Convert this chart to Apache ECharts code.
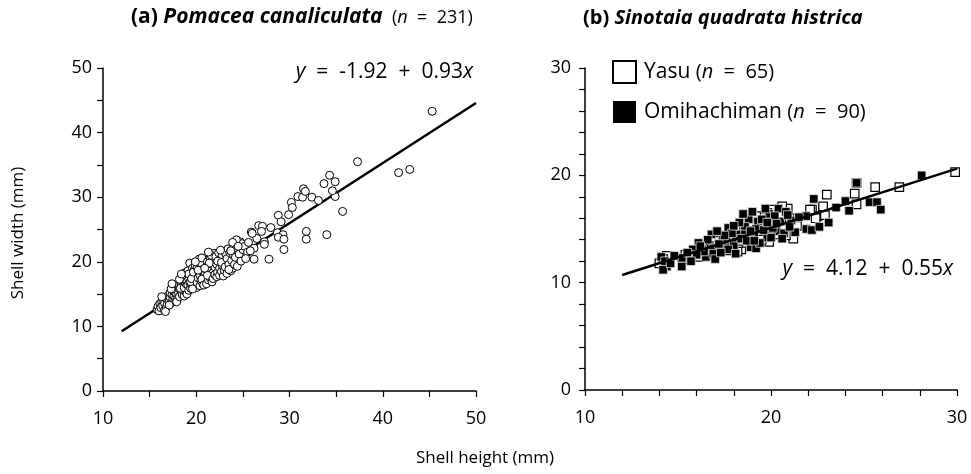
<!DOCTYPE html>
<html>
<head>
<meta charset="utf-8">
<script src="https://cdn.jsdelivr.net/npm/echarts@6/dist/echarts.min.js"></script>
<style>
html,body{margin:0;padding:0;background:#fff;}
#c{width:971px;height:474px;}
</style>
</head>
<body>
<div id="c"></div>
<script>
// ---- Panel (a): Pomacea canaliculata, [shell height, shell width] ----
var pomacea = [
[15.8,12.6],[15.9,13.1],[16.0,12.4],[16.1,13.5],[16.2,12.9],[16.3,13.8],[16.4,13.2],[16.5,14.0],[16.6,12.5],[16.6,13.6],
[16.7,14.4],[16.8,13.0],[16.9,14.1],[16.9,13.4],[16.7,12.3],[17.0,14.8],
[17.1,13.9],[17.2,14.5],[17.2,15.2],[17.3,13.6],[17.4,14.9],[17.5,14.2],[17.5,15.6],[17.6,14.7],[17.7,13.9],[17.7,15.3],
[17.8,14.4],[17.8,16.0],[17.9,15.0],[18.0,14.3],[18.0,15.7],[17.6,16.2],[17.9,13.8],[17.3,15.8],
[18.1,15.2],[18.1,16.4],[18.2,14.6],[18.2,15.8],[18.3,17.0],[18.4,15.4],[18.4,16.6],[18.5,14.9],[18.5,16.1],[18.6,17.5],
[18.6,15.6],[18.7,16.8],[18.7,14.7],[18.8,16.3],[18.8,18.3],[18.9,15.3],[18.9,17.2],[19.0,16.0],[19.0,17.8],[19.0,15.0],
[18.3,15.9],[18.5,17.8],[18.7,16.0],[18.9,16.6],[19.0,16.9],
[19.1,16.4],[19.1,18.6],[19.2,15.6],[19.2,17.3],[19.3,19.8],[19.3,16.8],[19.4,17.9],[19.4,15.9],[19.5,16.5],[19.5,18.3],
[19.6,17.0],[19.6,19.0],[19.7,16.1],[19.7,17.6],[19.8,18.8],[19.8,16.6],[19.9,17.3],[19.9,19.4],[20.0,16.0],[20.0,18.0],
[19.2,18.1],[19.4,16.9],[19.6,15.8],[19.8,17.9],[20.0,17.2],[19.5,17.4],[19.7,18.4],
[20.1,16.8],[20.1,19.1],[20.2,17.5],[20.3,20.4],[20.3,18.3],[20.4,16.3],[20.4,17.9],[20.5,19.4],[20.5,17.1],[20.6,18.6],
[20.7,16.6],[20.7,19.9],[20.8,17.7],[20.8,18.9],[20.9,16.9],[20.9,20.2],[21.0,18.2],[21.0,17.4],[20.2,18.7],[20.6,17.3],
[20.8,16.4],[21.0,19.5],[20.4,19.9],[20.6,20.6],
[21.1,16.6],[21.1,18.8],[21.2,20.0],[21.3,17.2],[21.3,19.3],[21.4,18.0],[21.5,20.6],[21.5,17.5],[21.6,18.9],[21.7,16.9],
[21.7,19.6],[21.8,18.3],[21.9,21.3],[21.9,17.8],[22.0,19.2],[22.0,20.3],[21.2,17.9],[21.4,19.8],[21.6,21.0],[21.8,17.4],[22.0,18.0],
[22.1,20.8],[22.2,17.7],[22.2,19.6],[22.3,18.4],[22.4,21.4],[22.5,19.0],[22.5,17.9],[22.6,20.4],[22.7,18.5],[22.8,21.0],
[22.8,19.4],[22.9,17.8],[23.0,20.0],[23.0,18.7],[22.3,20.1],[22.7,19.9],[23.0,21.6],
[23.1,19.2],[23.2,21.1],[23.3,18.2],[23.3,20.5],[23.4,22.0],[23.5,19.6],[23.6,21.4],[23.7,18.6],[23.7,21.7],[23.8,20.2],
[23.9,19.0],[24.0,21.0],[24.0,22.5],[23.5,18.8],
[24.1,19.6],[24.2,20.7],[24.3,22.1],[24.4,19.3],[24.5,22.4],[24.6,21.2],[24.7,23.1],[24.8,20.1],[25.0,21.9],[24.9,22.8],
[25.2,22.4],[25.5,21.5],[26.5,23.6],[24.3,23.4],[22.6,21.8],[21.3,21.5],[20.9,19.0],[19.9,20.0],[18.2,17.3],[17.4,16.6],
[16.3,14.6],[17.1,13.3],[18.4,18.1],[23.9,23.0],[25.9,24.6],
[25.6,23.0],[26.2,22.1],[26.2,20.4],[25.8,21.7],[25.3,20.5],[24.5,22.4],[23.7,21.7],
[26.0,24.4],[26.7,25.6],[27.1,25.5],[27.0,24.7],[27.3,23.1],[27.3,22.7],[28.0,25.3],[27.8,20.4],
[28.7,24.5],[29.3,24.2],[28.8,23.8],[29.4,23.5],[29.4,21.9],[28.8,27.2],[29.1,26.2],[29.9,27.3],
[30.2,29.2],[30.3,28.4],[30.9,30.1],[31.4,30.0],[31.5,31.3],[31.7,30.9],[32.4,30.0],[33.1,29.5],
[31.8,24.7],[31.8,23.5],[34.0,24.2],[35.7,27.8],[34.9,30.1],[34.6,31.0],[33.7,32.1],[34.9,32.4],
[34.3,33.4],[37.3,35.5],[41.7,33.8],[42.9,34.3],[45.3,43.3]
];
var fitA = [[12, 9.24], [50, 44.58]];

// ---- Panel (b): Sinotaia quadrata histrica ----
var yasu = [
[29.9,20.3],[26.9,18.9],[25.6,18.9],[24.6,19.3],[24.5,18.3],[24.6,17.3],[23.0,18.2],[22.8,16.9],[22.2,16.8],[22.5,16.2],
[22.9,16.3],[22.1,16.8],[22.8,17.1],[21.2,14.1],[21.1,15.5],[20.9,16.9],[20.6,17.1],[20.3,16.6],[20.0,16.8],[19.8,16.5],
[19.9,13.8],[19.6,16.1],[19.4,15.8],[19.1,15.3],[18.9,15.6],[18.6,14.8],[18.4,13.1],[18.2,12.9],[18.3,14.7],[18.0,14.2],
[17.8,14.6],[17.5,13.8],[17.3,14.3],[17.1,14.5],[16.9,13.4],[16.6,12.9],[16.4,13.5],[16.1,12.4],[15.6,12.2],[15.4,12.6],
[14.4,12.5],[14.0,11.8],[14.2,12.2],[20.4,15.4],[20.7,15.0],[20.2,14.5],[19.5,14.0],[19.0,14.2],[18.7,13.7],[17.9,13.5],
[17.6,13.0],[21.0,16.0],[20.5,16.3],[19.7,15.2],[19.2,16.2],[18.5,15.4],[16.8,12.6],[15.9,12.8],[21.4,15.3],[20.1,15.9],
[22.4,16.0],[20.8,14.4],[19.3,14.8],[18.1,15.0],[17.0,13.9]
];
var omihachiman = [
[28.1,20.0],[24.6,19.3],[25.3,17.5],[25.7,17.5],[25.9,16.8],[24.2,16.7],[22.3,17.8],[21.9,16.2],[23.1,15.6],[21.9,15.0],
[22.2,14.9],[20.4,16.9],[20.8,16.6],[19.9,16.4],[18.8,15.9],[19.3,15.7],[20.5,15.7],[21.1,15.8],[19.9,15.4],[18.6,15.2],
[19.2,15.0],[19.9,14.7],[20.3,14.8],[18.2,14.5],[18.6,14.5],[19.1,14.4],[20.7,14.6],[21.3,14.7],[17.7,15.1],[16.8,14.5],
[18.1,14.0],[19.8,14.2],[20.0,14.2],[16.1,13.7],[16.7,13.5],[17.6,13.3],[18.0,13.4],[18.9,13.3],[19.2,13.2],[15.8,13.1],
[16.3,13.1],[16.9,13.2],[17.7,13.1],[18.1,12.7],[16.5,12.4],[16.9,12.7],[17.0,12.2],[15.2,12.3],[15.2,11.5],[14.1,12.4],
[14.4,11.5],[14.2,11.2],[19.5,15.9],[20.1,15.1],[19.6,14.9],[18.4,14.1],[17.4,14.0],[17.2,13.6],[16.4,12.9],[15.5,12.8],
[14.3,12.0],[14.6,11.8],[19.0,16.6],[19.7,16.9],[20.2,16.2],[18.9,14.8],[18.3,15.6],[17.9,14.6],[17.3,12.8],[16.0,12.6],
[20.6,14.1],[21.0,15.2],[19.4,13.7],[18.7,13.9],[18.5,16.4],[17.5,14.4],[16.6,14.0],[15.7,12.0],[14.8,12.5],[19.8,15.6],
[20.9,16.3],[18.0,15.3],[17.1,14.8],[16.2,13.4],[19.1,13.9],[20.3,15.5],[21.5,16.1],[22.6,15.2],[23.5,17.0],[24.0,17.6]
];
var fitB = [[12, 10.72], [30, 20.62]];

var xTicksA = [10, 20, 30, 40, 50];
var yTicksA = [0, 10, 20, 30, 40, 50];
var xTicksB = [10, 20, 30];
var yTicksB = [0, 10, 20, 30];

var FONT = '"Open Sans", "Noto Sans", sans-serif';
var SP = '\u00a0\u00a0';
function labelFn(list){ return function(v){ return list.indexOf(v) >= 0 ? String(v) : ''; }; }
function axisBase(extra){
  var a = {
    type: 'value',
    axisLine: {show: true, onZero: false, lineStyle: {color: '#000', width: 1.5}},
    axisTick: {show: true, inside: false, length: 6, lineStyle: {color: '#000', width: 1.2}},
    splitLine: {show: false},
    axisLabel: {color: '#000', fontSize: 18, fontFamily: FONT, showMinLabel: true, showMaxLabel: true}
  };
  for (var k in extra) {
    if (k === 'axisLabel') { for (var j in extra[k]) a.axisLabel[j] = extra[k][j]; }
    else a[k] = extra[k];
  }
  return a;
}

var chart = echarts.init(document.getElementById('c'), null, {renderer: 'canvas'});
var option = {
  animation: false,
  backgroundColor: '#fff',
  grid: [
    {left: 103, top: 68, width: 373, height: 323},
    {left: 585, top: 68, width: 372, height: 322}
  ],
  xAxis: [
    axisBase({gridIndex: 0, min: 10, max: 50, interval: 5, axisLabel: {margin: 19, formatter: labelFn(xTicksA)}}),
    axisBase({gridIndex: 1, min: 10, max: 30, interval: 2, axisLabel: {margin: 19, formatter: labelFn(xTicksB)}})
  ],
  yAxis: [
    axisBase({gridIndex: 0, min: 0, max: 50, interval: 5, axisLabel: {margin: 11, formatter: labelFn(yTicksA)}}),
    axisBase({gridIndex: 1, min: 0, max: 30, interval: 2, axisLabel: {margin: 14, formatter: labelFn(yTicksB)}})
  ],
  legend: {
    orient: 'vertical',
    left: 612, top: 60, padding: 0,
    itemWidth: 23, itemHeight: 22, itemGap: 17,
    icon: 'rect',
    data: [
      {name: 'Yasu', itemStyle: {color: '#fff', borderColor: '#000', borderWidth: 2}},
      {name: 'Omihachiman', itemStyle: {color: '#000', borderWidth: 0}}
    ],
    formatter: function(name){
      return name === 'Yasu' ? '{a|Yasu }{s|(}{i|n}{s|' + SP + '=' + SP + '65)}'
                             : '{a|Omihachiman }{s|(}{i|n}{s|' + SP + '=' + SP + '90)}';
    },
    textStyle: {
      color: '#000', fontFamily: FONT, fontSize: 21, padding: [0, 0, 0, 3],
      rich: {
        a: {fontSize: 21, fontFamily: FONT, color: '#000'},
        s: {fontSize: 20, fontFamily: FONT, color: '#000'},
        i: {fontSize: 20, fontFamily: FONT, fontStyle: 'italic', color: '#000'}
      }
    }
  },
  series: [
    {
      type: 'line', xAxisIndex: 0, yAxisIndex: 0, data: fitA, showSymbol: false, symbol: 'none',
      lineStyle: {color: '#000', width: 2.5}, z: 1, silent: true
    },
    {
      name: 'Pomacea', type: 'scatter', xAxisIndex: 0, yAxisIndex: 0, data: pomacea,
      symbol: 'circle', symbolSize: 8,
      itemStyle: {color: '#fff', borderColor: '#000', borderWidth: 1, opacity: 1}, z: 2
    },
    {
      name: 'Yasu', type: 'scatter', xAxisIndex: 1, yAxisIndex: 1, data: yasu,
      symbol: 'rect', symbolSize: 8.5,
      itemStyle: {color: '#fff', borderColor: '#000', borderWidth: 1.2, opacity: 1}, z: 2
    },
    {
      name: 'Omihachiman', type: 'scatter', xAxisIndex: 1, yAxisIndex: 1, data: omihachiman,
      symbol: 'rect', symbolSize: 8.5,
      itemStyle: {color: '#000', borderColor: '#ddd', borderWidth: 0.8, opacity: 1}, z: 3
    },
    {
      type: 'line', xAxisIndex: 1, yAxisIndex: 1, data: fitB, showSymbol: false, symbol: 'none',
      lineStyle: {color: '#000', width: 2.5}, z: 4, silent: true
    }
  ],
  graphic: [
    {
      type: 'text', left: 131, top: 7,
      style: {
        text: '{b|(a) }{bi|Pomacea canaliculata}{s|  (}{si|n}{s|\u00a0\u00a0=\u00a0\u00a0231)}',
        rich: {
          b: {fontSize: 21, fontWeight: 'bold', fontFamily: FONT, fill: '#000'},
          bi: {fontSize: 21, fontWeight: 'bold', fontStyle: 'italic', fontFamily: FONT, fill: '#000'},
          s: {fontSize: 18, fontFamily: FONT, fill: '#000'},
          si: {fontSize: 18, fontStyle: 'italic', fontFamily: FONT, fill: '#000'}
        }
      }
    },
    {
      type: 'text', left: 583, top: 8,
      style: {
        text: '{b|(b) }{bi|Sinotaia quadrata histrica}',
        rich: {
          b: {fontSize: 20, fontWeight: 'bold', fontFamily: FONT, fill: '#000'},
          bi: {fontSize: 20, fontWeight: 'bold', fontStyle: 'italic', fontFamily: FONT, fill: '#000'}
        }
      }
    },
    {
      type: 'text', right: 498, top: 62,
      style: {
        text: '{i|y}{n|' + SP + '=' + SP + '-1.92' + SP + '+' + SP + '0.93}{i|x}',
        rich: {
          n: {fontSize: 21, fontFamily: FONT, fill: '#000'},
          i: {fontSize: 21, fontStyle: 'italic', fontFamily: FONT, fill: '#000'}
        }
      }
    },
    {
      type: 'text', right: 18, top: 259,
      style: {
        text: '{i|y}{n|' + SP + '=' + SP + '4.12' + SP + '+' + SP + '0.55}{i|x}',
        rich: {
          n: {fontSize: 21, fontFamily: FONT, fill: '#000'},
          i: {fontSize: 21, fontStyle: 'italic', fontFamily: FONT, fill: '#000'}
        }
      }
    },
    {
      type: 'text', x: 18, y: 233, rotation: Math.PI / 2,
      style: {text: 'Shell width (mm)', fontSize: 17, fontFamily: FONT, fill: '#000', align: 'center', verticalAlign: 'middle'}
    },
    {
      type: 'text', x: 485, y: 458,
      style: {text: 'Shell height (mm)', fontSize: 17, fontFamily: FONT, fill: '#000', align: 'center', verticalAlign: 'middle'}
    }
  ]
};
chart.setOption(option);
</script>
</body>
</html>
